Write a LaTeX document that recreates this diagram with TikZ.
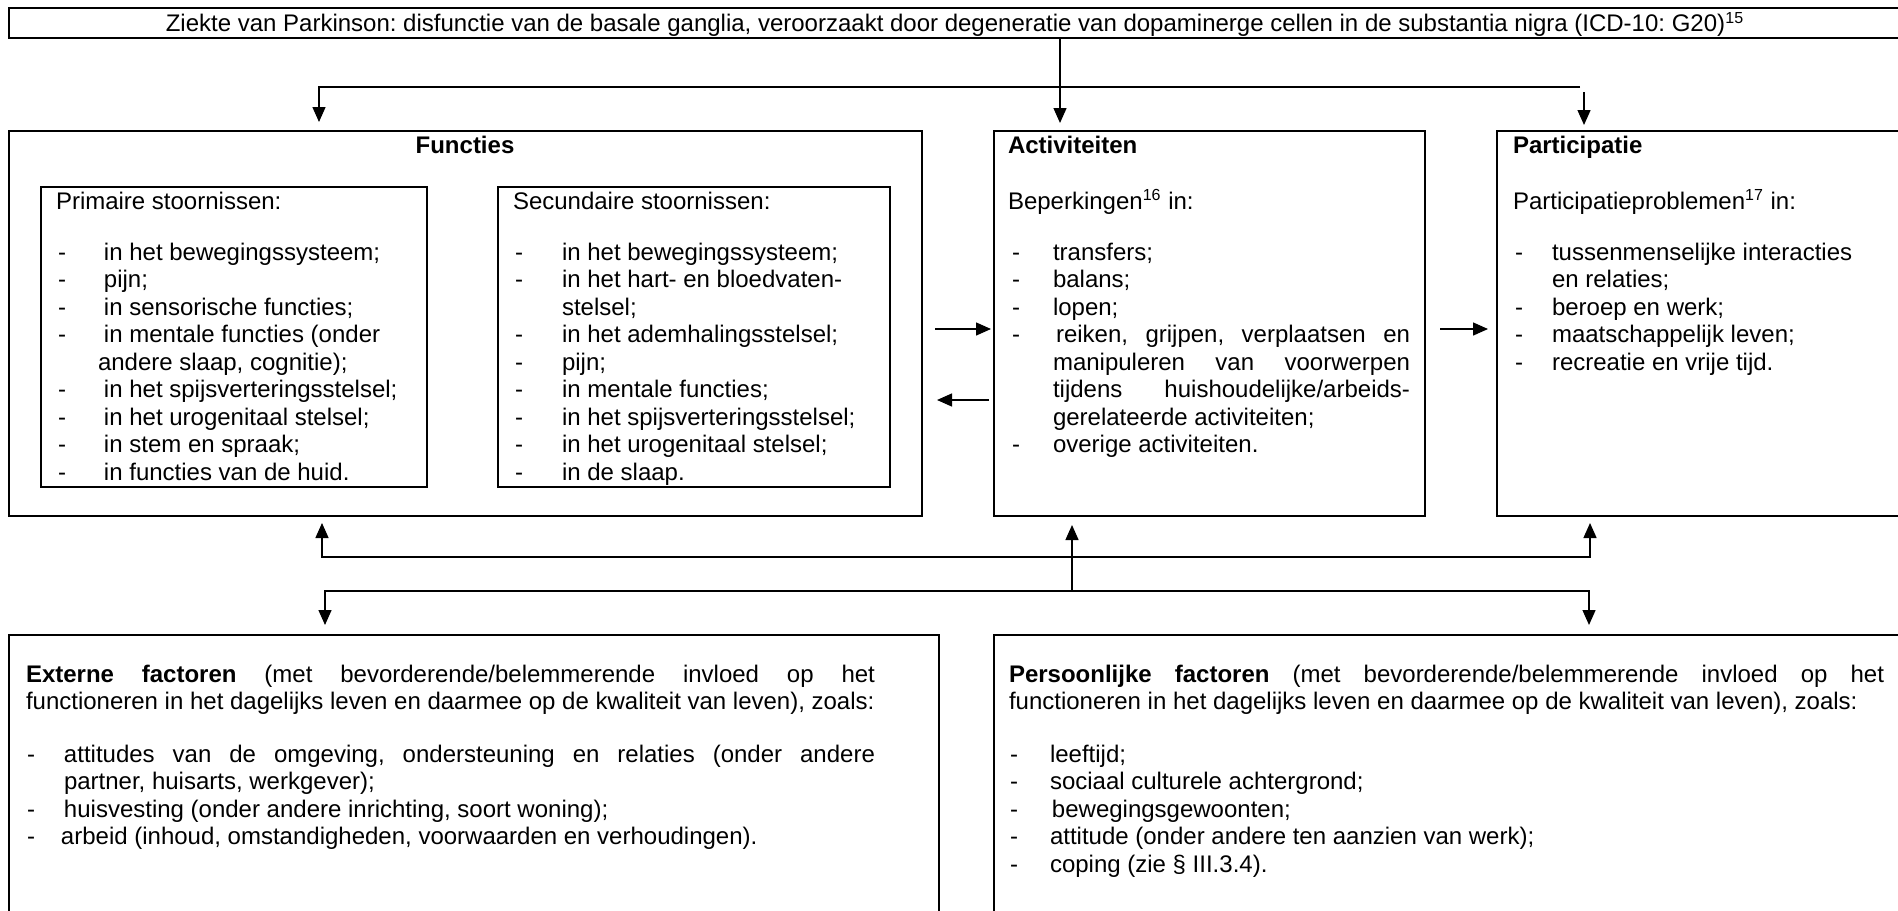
\documentclass[tikz,border=0pt]{standalone}
\usepackage{fontspec}
\setmainfont{Liberation Sans}
\usetikzlibrary{arrows.meta}
\frenchspacing
\newcommand\dsh[1]{\makebox[#1][l]{-}}
\newcommand\lineblock[4]{\foreach \itm [count=\i from 0] in {#4} {\node[txt] (#1\i) at (#2,#3+27.5*\i) {\itm};}}
\begin{document}
\begin{tikzpicture}[x=0.5pt,y=-0.5pt,
  box/.style={draw, line width=1pt, anchor=north west, inner sep=0pt, outer sep=0pt},
  txt/.style={anchor=base west, inner sep=0pt, outer sep=0pt, font=\fontsize{12pt}{13.75pt}\selectfont\frenchspacing},
  hd/.style={txt, font=\fontsize{12pt}{13.75pt}\selectfont\bfseries},
  ln/.style={line width=0.7pt},
  >={Triangle[length=7.5pt,width=6.5pt]},
  arr/.style={line width=0.7pt, ->},
  darr/.style={line width=0.7pt, <->}]
\useasboundingbox (0,0) rectangle (1898,910);
\clip (0,0) rectangle (1898,910);

% boxes
\node[box, minimum width=950.5pt, minimum height=15pt] (titlebox) at (9,8) {};
\node[box, minimum width=456.5pt, minimum height=192.5pt] (func) at (9,131) {};
\node[box, minimum width=193pt, minimum height=150pt] (prim) at (41,187) {};
\node[box, minimum width=196pt, minimum height=150pt] (sec) at (498,187) {};
\node[box, minimum width=215.5pt, minimum height=192.5pt] (act) at (994,131) {};
\node[box, minimum width=206.5pt, minimum height=192.5pt] (part) at (1497,131) {};
\node[box, minimum width=465pt, minimum height=150pt] (ext) at (9,635) {};
\node[box, minimum width=458pt, minimum height=150pt] (pers) at (994,635) {};

% title
\node[txt, anchor=base] (ttl) at (955,32) {Ziekte van Parkinson: disfunctie van de basale ganglia, veroorzaakt door degeneratie van dopaminerge cellen in de substantia nigra (ICD-10: G20)\textsuperscript{15}};

% Functies
\node[hd, anchor=base] (fh) at (465,153) {Functies};
\node[txt] (ph) at (56,209) {Primaire stoornissen:};
\lineblock{pa}{58}{260}{{\dsh{23pt}in het bewegingssysteem;},{\dsh{23pt}pijn;},{\dsh{23pt}in sensorische functies;},{\dsh{23pt}in mentale functies (onder},{\hspace*{20pt}andere slaap, cognitie);},{\dsh{23pt}in het spijsverteringsstelsel;},{\dsh{23pt}in het urogenitaal stelsel;},{\dsh{23pt}in stem en spraak;},{\dsh{23pt}in functies van de huid.}}
\node[txt] (sh) at (513,209) {Secundaire stoornissen:};
\lineblock{sa}{515}{260}{{\dsh{23.5pt}in het bewegingssysteem;},{\dsh{23.5pt}in het hart- en bloedvaten-},{\hspace*{23.5pt}stelsel;},{\dsh{23.5pt}in het ademhalingsstelsel;},{\dsh{23.5pt}pijn;},{\dsh{23.5pt}in mentale functies;},{\dsh{23.5pt}in het spijsverteringsstelsel;},{\dsh{23.5pt}in het urogenitaal stelsel;},{\dsh{23.5pt}in de slaap.}}

% Activiteiten
\node[hd] (ah) at (1008,153) {Activiteiten};
\node[txt] (ab) at (1008,209) {Beperkingen\textsuperscript{16} in:};
\lineblock{aa}{1012}{260}{{\dsh{20.5pt}transfers;},{\dsh{20.5pt}balans;},{\dsh{20.5pt}lopen;},{\dsh{22pt}\makebox[177pt][s]{reiken, grijpen, verplaatsen en}},{\hspace*{20.5pt}\makebox[178.5pt][s]{manipuleren van voorwerpen}},{\hspace*{20.5pt}\makebox[178.5pt][s]{tijdens huishoudelijke/arbeids-}},{\hspace*{20.5pt}gerelateerde activiteiten;},{\dsh{20.5pt}overige activiteiten.}}

% Participatie
\node[hd] (qh) at (1513,153) {Participatie};
\node[txt] (qb) at (1513,209) {Participatieproblemen\textsuperscript{17} in:};
\lineblock{qa}{1515}{260}{{\dsh{18.5pt}tussenmenselijke interacties},{\hspace*{18.5pt}en relaties;},{\dsh{18.5pt}beroep en werk;},{\dsh{18.5pt}maatschappelijk leven;},{\dsh{18.5pt}recreatie en vrije tijd.}}

% Externe factoren
\node[txt] (eh) at (26,682) {\makebox[424.5pt][s]{\textbf{Externe factoren} (met bevorderende/belemmerende invloed op het}};
\node[txt] (eh2) at (26,709.5) {functioneren in het dagelijks leven en daarmee op de kwaliteit van leven), zoals:};
\lineblock{ea}{27}{762}{{\dsh{18.5pt}\makebox[405.5pt][s]{attitudes van de omgeving, ondersteuning en relaties (onder andere}},{\hspace*{18.5pt}partner, huisarts, werkgever);},{\dsh{18.5pt}huisvesting (onder andere inrichting, soort woning);},{\dsh{17pt}arbeid (inhoud, omstandigheden, voorwaarden en verhoudingen).}}

% Persoonlijke factoren
\node[txt] (ph1) at (1009,682) {\makebox[437.5pt][s]{\textbf{Persoonlijke factoren} (met bevorderende/belemmerende invloed op het}};
\node[txt] (ph2) at (1009,709.5) {functioneren in het dagelijks leven en daarmee op de kwaliteit van leven), zoals:};
\lineblock{pb}{1010}{762}{{\dsh{20pt}leeftijd;},{\dsh{20pt}sociaal culturele achtergrond;},{\dsh{21pt}bewegingsgewoonten;},{\dsh{20pt}attitude (onder andere ten aanzien van werk);},{\dsh{20pt}coping (zie § III.3.4).}}

% connectors top
\coordinate (tl) at (319,87);
\coordinate (tr) at (1580,87);
\coordinate (cx) at (1060,0);
\coordinate (trr) at (1584,92);
\draw[arr, shorten >=4.5pt] (tr) -- (tl) -- (func.north -| tl);
\draw[arr, shorten >=4pt] (titlebox.south -| cx) -- (act.north -| cx);
\draw[arr, shorten >=3pt] (trr) -- (part.north -| trr);

% side connectors
\coordinate (ya) at (0,329);
\coordinate (yb) at (0,400);
\draw[arr, shorten <=6.5pt, shorten >=1.5pt] (func.east |- ya) -- (act.west |- ya);
\draw[arr, shorten <=2.5pt, shorten >=7.5pt] (act.west |- yb) -- (func.east |- yb);
\draw[arr, shorten <=7.5pt, shorten >=4.5pt] (act.east |- ya) -- (part.west |- ya);

% connectors bottom
\coordinate (ul) at (322,557);
\coordinate (ur) at (1590,557);
\coordinate (cb) at (1072,591);
\coordinate (ll) at (325,591);
\coordinate (lr) at (1589,591);
\draw[darr, shorten <=3.5pt, shorten >=3.5pt] (func.south -| ul) -- (ul) -- (ur) -- (part.south -| ur);
\draw[arr, shorten >=4.5pt] (cb) -- (act.south -| cb);
\draw[darr, shorten <=5pt, shorten >=5pt] (ext.north -| ll) -- (ll) -- (lr) -- (pers.north -| lr);
\end{tikzpicture}
\end{document}
